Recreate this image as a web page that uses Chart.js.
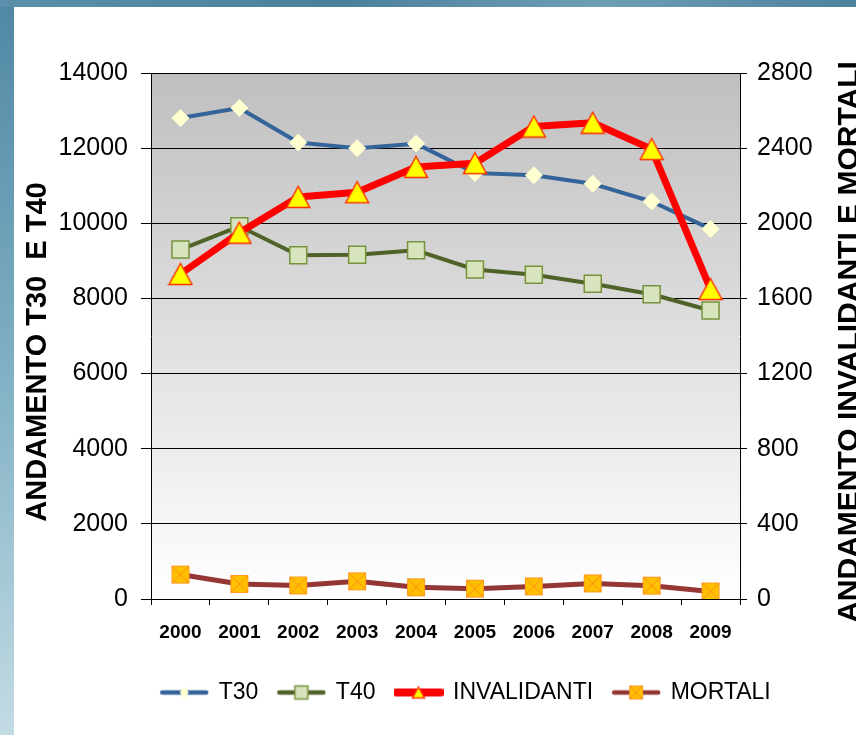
<!DOCTYPE html>
<html>
<head>
<meta charset="utf-8">
<script src="https://cdn.jsdelivr.net/npm/chart.js@4.4.0/dist/chart.umd.min.js"></script>
<style>
  html, body { margin: 0; padding: 0; background: #fff; }
  #wrap { width: 856px; height: 735px; }
</style>
</head>
<body>
<div id="wrap"><canvas id="graph" width="856" height="735"></canvas></div>
<script>
////////////////////////////// Dati //////////////////////////////
var anni = ['2000', '2001', '2002', '2003', '2004', '2005', '2006', '2007', '2008', '2009'];
var t30 = [12800, 13070, 12150, 12000, 12120, 11340, 11280, 11050, 10580, 9850];
var t40 = [9300, 9920, 9150, 9160, 9280, 8770, 8630, 8390, 8110, 7680];
var invalidanti = [1730, 1950, 2140, 2165, 2300, 2320, 2515, 2535, 2395, 1650];
var mortali = [130, 80, 72, 94, 62, 55, 67, 83, 71, 40];
var titoloSx = 'ANDAMENTO T30  E T40';
var titoloDx = 'ANDAMENTO INVALIDANTI E MORTALI';

var FONT = '"Liberation Sans", Arial, sans-serif';

////////////////////////////// Marcatori //////////////////////////////
function triangolo(c, cx, cy, w, h) {
  c.beginPath();
  c.moveTo(cx, cy - h / 2);
  c.lineTo(cx + w / 2, cy + h / 2);
  c.lineTo(cx - w / 2, cy + h / 2);
  c.closePath();
  c.fillStyle = '#ffff00';
  c.fill();
  c.lineWidth = 1.5;
  c.strokeStyle = '#ff3300';
  c.stroke();
}

function quadratoX(c, cx, cy, s) {
  c.fillStyle = '#ffc000';
  c.fillRect(cx - s / 2, cy - s / 2, s, s);
  c.strokeStyle = '#ff9a1f';
  c.lineWidth = 1;
  c.strokeRect(cx - s / 2 + 0.5, cy - s / 2 + 0.5, s - 1, s - 1);
  c.strokeStyle = '#ff8a1a';
  c.beginPath();
  c.moveTo(cx - s / 2 + 1, cy - s / 2 + 1); c.lineTo(cx + s / 2 - 1, cy + s / 2 - 1);
  c.moveTo(cx + s / 2 - 1, cy - s / 2 + 1); c.lineTo(cx - s / 2 + 1, cy + s / 2 - 1);
  c.stroke();
}

function diamante(c, cx, cy, w, h) {
  c.beginPath();
  c.moveTo(cx, cy - h / 2); c.lineTo(cx + w / 2, cy); c.lineTo(cx, cy + h / 2); c.lineTo(cx - w / 2, cy);
  c.closePath();
  c.fillStyle = '#ffffd0';
  c.fill();
}

function quadratoVerde(c, cx, cy, s) {
  c.fillStyle = '#d7e4bd';
  c.fillRect(cx - s / 2, cy - s / 2, s, s);
  c.strokeStyle = '#77933c';
  c.lineWidth = 1.5;
  c.strokeRect(cx - s / 2, cy - s / 2, s, s);
}

function nuovaTela(w, h) {
  var cv = document.createElement('canvas');
  cv.width = w; cv.height = h;
  return cv;
}

var puntoInv = nuovaTela(26, 24);
triangolo(puntoInv.getContext('2d'), 13, 12, 23, 21);
var puntoMort = nuovaTela(20, 20);
quadratoX(puntoMort.getContext('2d'), 10, 10, 18);

// simboli della legenda: linea + marcatore
function simbolo(colore, spessore, disegna) {
  var cv = nuovaTela(50, 24);
  var c = cv.getContext('2d');
  c.strokeStyle = colore;
  c.lineWidth = spessore;
  c.lineCap = 'round';
  c.beginPath(); c.moveTo(3, 12); c.lineTo(47, 12); c.stroke();
  disegna(c);
  return cv;
}
var simboliLegenda = [
  simbolo('#35649a', 4.5, function (c) { diamante(c, 25, 12, 9, 13); }),
  simbolo('#4f6228', 4.5, function (c) { quadratoVerde(c, 25, 12, 13); }),
  simbolo('#ff0000', 8, function (c) { triangolo(c, 25, 12, 12, 11); }),
  simbolo('#943634', 4.5, function (c) { quadratoX(c, 25, 12, 14); })
];

////////////////////////////// Plugin //////////////////////////////
var sfondo = {
  id: 'sfondo',
  beforeDraw: function (chart) {
    var c = chart.ctx, a = chart.chartArea;
    c.save();
    var gb = c.createLinearGradient(0, 0, 0, chart.height);
    gb.addColorStop(0, '#4f87a3');
    gb.addColorStop(0.5, '#7fb0c4');
    gb.addColorStop(1, '#c3dbe4');
    c.fillStyle = gb;
    c.fillRect(0, 0, chart.width, chart.height);
    var gt = c.createLinearGradient(0, 0, chart.width, 0);
    gt.addColorStop(0, '#5a90ab');
    gt.addColorStop(0.4, '#4b809c');
    gt.addColorStop(0.7, '#6d9fb6');
    gt.addColorStop(1, '#4d829e');
    c.fillStyle = gt;
    c.fillRect(0, 0, chart.width, 7);
    c.fillStyle = '#ffffff';
    c.fillRect(14, 7, chart.width - 14, chart.height - 7);
    var gp = c.createLinearGradient(0, a.top, 0, a.bottom);
    gp.addColorStop(0, '#bfbfbf');
    gp.addColorStop(1, '#ffffff');
    c.fillStyle = gp;
    c.fillRect(a.left, a.top, a.right - a.left, a.bottom - a.top);
    c.restore();
  }
};

var titoli = {
  id: 'titoli',
  afterDraw: function (chart) {
    var c = chart.ctx;
    c.save();
    c.fillStyle = '#000';
    c.font = 'bold 29px ' + FONT;
    c.textAlign = 'center';
    c.textBaseline = 'alphabetic';
    c.save();
    c.translate(46, 352);
    c.rotate(-Math.PI / 2);
    c.fillText(titoloSx, 0, 0);
    c.restore();
    c.font = 'bold 30px ' + FONT;
    c.translate(858, 342);
    c.rotate(-Math.PI / 2);
    c.fillText(titoloDx, 0, 0);
    c.restore();
  }
};

////////////////////////////// Grafico //////////////////////////////
var ctx = document.getElementById('graph').getContext('2d');
var grafico = new Chart(ctx, {
  type: 'line',
  data: {
    labels: anni,
    datasets: [
      {
        label: 'T30', data: t30, yAxisID: 'ySx', order: 3,
        borderColor: '#35649a', borderWidth: 4, borderJoinStyle: 'round',
        pointStyle: 'rectRot', pointRadius: 8.5,
        pointBackgroundColor: '#ffffd0', pointBorderColor: '#ffffd0', pointBorderWidth: 1
      },
      {
        label: 'T40', data: t40, yAxisID: 'ySx', order: 2,
        borderColor: '#4f6228', borderWidth: 4, borderJoinStyle: 'round',
        pointStyle: 'rect', pointRadius: 12,
        pointBackgroundColor: '#d7e4bd', pointBorderColor: '#77933c', pointBorderWidth: 1.5
      },
      {
        label: 'INVALIDANTI', data: invalidanti, yAxisID: 'yDx', order: 0,
        borderColor: '#ff0000', borderWidth: 7, borderJoinStyle: 'round',
        pointStyle: puntoInv, pointRadius: 12
      },
      {
        label: 'MORTALI', data: mortali, yAxisID: 'yDx', order: 1,
        borderColor: '#943634', borderWidth: 5, borderJoinStyle: 'round',
        pointStyle: puntoMort, pointRadius: 10
      }
    ]
  },
  options: {
    responsive: false,
    animation: false,
    events: [],
    // padding destro negativo: sposta il centro della legenda come nell'originale
    layout: { padding: { left: 40, right: -36, top: 73, bottom: 21 } },
    plugins: {
      tooltip: { enabled: false },
      legend: {
        position: 'bottom',
        labels: {
          usePointStyle: true,
          pointStyleWidth: 46,
          padding: 20,
          color: '#000',
          font: { family: FONT, size: 23 },
          sort: function (a, b) { return a.datasetIndex - b.datasetIndex; },
          generateLabels: function (chart) {
            var items = Chart.defaults.plugins.legend.labels.generateLabels(chart);
            items.forEach(function (it) { it.pointStyle = simboliLegenda[it.datasetIndex]; });
            return items;
          }
        }
      }
    },
    scales: {
      x: {
        offset: true,
        grid: { drawOnChartArea: false, drawTicks: true, tickLength: 6, color: '#000', offset: true },
        border: { color: '#000', width: 1 },
        ticks: { color: '#000', font: { family: FONT, size: 19, weight: 'bold' }, padding: 16, maxRotation: 0, autoSkip: false },
        afterFit: function (s) { s.height = 62; }
      },
      ySx: {
        position: 'left', min: 0, max: 14000,
        ticks: { stepSize: 2000, color: '#000', font: { family: FONT, size: 25 }, padding: 13,
          callback: function (v) { return String(v); } },
        grid: { color: '#000', lineWidth: 1, tickLength: 10 },
        border: { color: '#000', width: 1 },
        afterFit: function (s) { s.width = 111; }
      },
      yDx: {
        position: 'right', min: 0, max: 2800,
        ticks: { stepSize: 400, color: '#000', font: { family: FONT, size: 25 }, padding: 10,
          callback: function (v) { return String(v); } },
        grid: { drawOnChartArea: false, color: '#000', tickLength: 7 },
        border: { color: '#000', width: 1 },
        afterFit: function (s) { s.width = 152; }
      }
    }
  },
  plugins: [sfondo, titoli]
});
</script>
</body>
</html>
